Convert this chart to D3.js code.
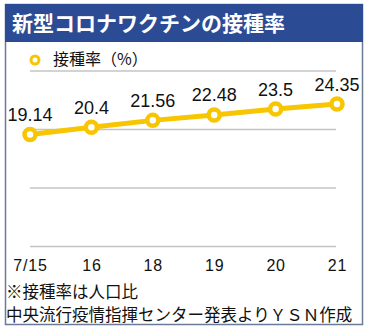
<!DOCTYPE html>
<html><head><meta charset="utf-8">
<script src="https://cdn.jsdelivr.net/npm/d3@7"></script>
<style>html,body{margin:0;padding:0;background:#fff;}svg{display:block;}</style>
</head><body>
<script>
const categories = ["7/15", "16", "18", "19", "20", "21"];
const values = [19.14, 20.4, 21.56, 22.48, 23.5, 24.35];
const valueLabels = ["19.14", "20.4", "21.56", "22.48", "23.5", "24.35"];
const gridTicks = [0, 10, 20, 30];
const title = "新型コロナワクチンの接種率";
const legendLabel = "接種率（%）";
const notes = ["※接種率は人口比", "中央流行疫情指揮センター発表よりＹＳＮ作成"];

const W = 368, H = 332;
const font = "'Noto Sans CJK JP', 'Noto Sans', sans-serif";
const numFont = "'Liberation Sans', Arial, sans-serif";
const yellow = "#f7c600";

const svg = d3.select("body").append("svg").attr("width", W).attr("height", H);
svg.append("rect").attr("width", W).attr("height", H).attr("fill", "#fff");

// frame
svg.append("rect").attr("x", 5.5).attr("y", 4.5).attr("width", 357).attr("height", 320)
  .attr("fill", "#fff").attr("stroke", "#6b7a96").attr("stroke-width", 1.5);
svg.append("rect").attr("x", 5).attr("y", 4).attr("width", 358).attr("height", 38).attr("fill", "#2c4b95");
svg.append("text").attr("x", 12).attr("y", 31).text(title)
  .attr("fill", "#fff").attr("font-family", font).attr("font-weight", "bold").attr("font-size", 21);

const x = d3.scalePoint().domain(categories).range([30, 337]);
const y = d3.scaleLinear().domain([0, 30]).range([246.5, 71]);

// gridlines
svg.append("g").selectAll("line").data(gridTicks).join("line")
  .attr("x1", 30).attr("x2", 336).attr("y1", d => y(d)).attr("y2", d => y(d))
  .attr("stroke", "#c4c4c4").attr("stroke-width", 1.5);

// legend
svg.append("circle").attr("cx", 35).attr("cy", 60).attr("r", 4).attr("fill", "#fff")
  .attr("stroke", yellow).attr("stroke-width", 3);
svg.append("text").attr("x", 53).attr("y", 65).text(legendLabel)
  .attr("font-family", font).attr("font-size", 16).attr("fill", "#111");

// line
const data = categories.map((c, i) => ({c, v: values[i], l: valueLabels[i]}));
svg.append("path").datum(data)
  .attr("d", d3.line().x(d => x(d.c)).y(d => y(d.v)))
  .attr("fill", "none").attr("stroke", yellow).attr("stroke-width", 5);
svg.append("g").selectAll("circle").data(data).join("circle")
  .attr("cx", d => x(d.c)).attr("cy", d => y(d.v)).attr("r", 5.5)
  .attr("fill", "#fff").attr("stroke", yellow).attr("stroke-width", 4.5);
svg.append("g").selectAll("text").data(data).join("text")
  .attr("x", d => x(d.c)).attr("y", d => y(d.v) - 13.5)
  .attr("text-anchor", "middle").text(d => d.l)
  .attr("font-family", numFont).attr("font-size", 18).attr("fill", "#111");

// x axis labels
const xAxis = d3.axisBottom(x).tickSize(0).tickPadding(0);
const gx = svg.append("g").attr("transform", "translate(0,259)").call(xAxis);
gx.select(".domain").remove();
gx.selectAll("text").attr("dy", null).attr("y", 11.5)
  .attr("font-family", numFont).attr("font-size", 16).attr("letter-spacing", 0.8).attr("fill", "#111");

// notes
svg.append("g").selectAll("text").data(notes).join("text")
  .attr("x", 6).attr("y", (d, i) => 298 + i * 23).text(d => d)
  .attr("font-family", font).attr("font-size", 16.5).attr("fill", "#111");
</script>
</body></html>
